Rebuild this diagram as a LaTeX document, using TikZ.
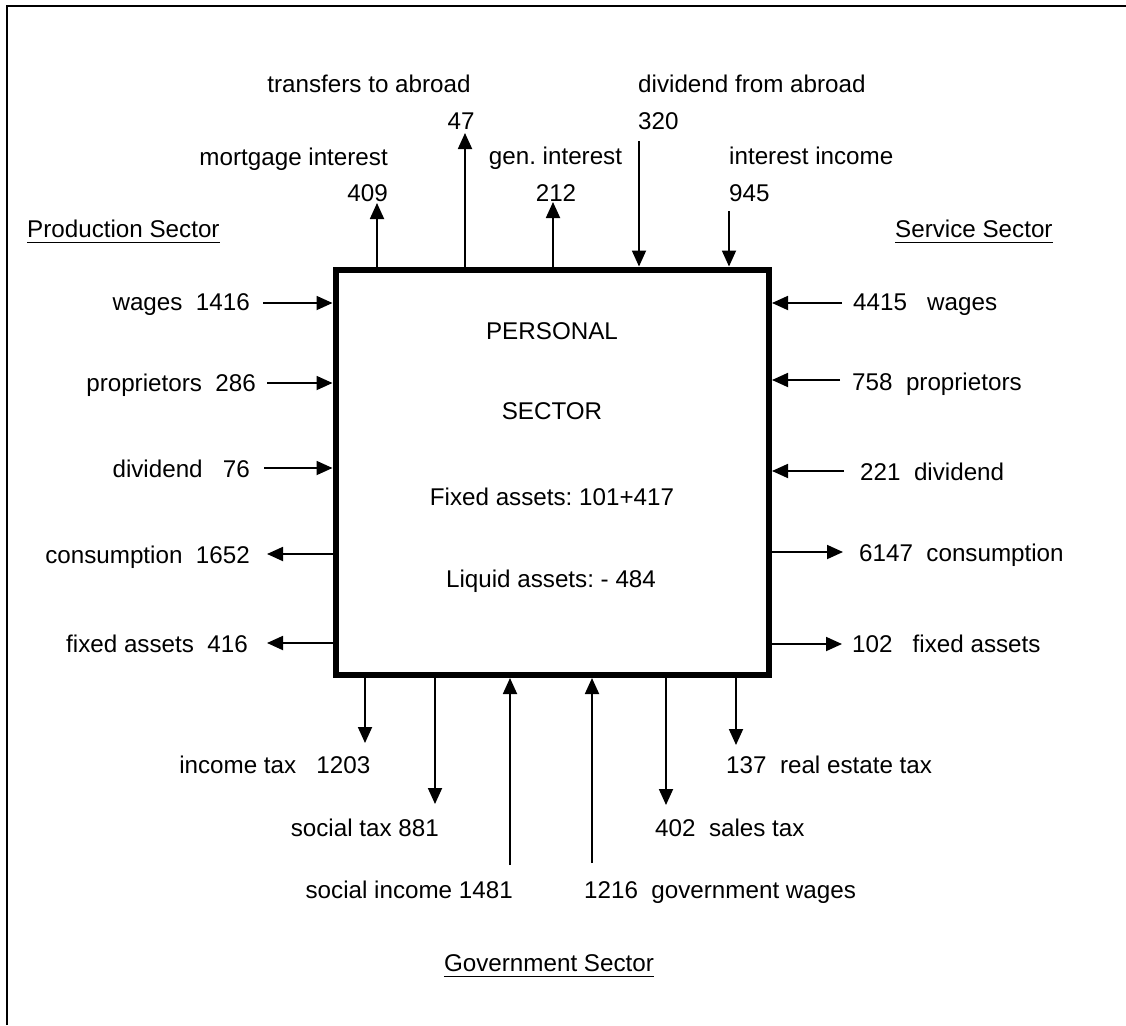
\documentclass[tikz,border=0pt]{standalone}
\usepackage{fontspec}
\setmainfont{Liberation Sans}
\usetikzlibrary{arrows.meta}
\frenchspacing
\begin{document}
\begin{tikzpicture}[x=1pt,y=-1pt,
  lbl/.style={inner sep=0pt, font=\fontsize{24.2}{29}\selectfont},
  flow/.style={line width=1.8pt, -{Triangle[length=16pt,width=14pt]}},
  uline/.style={line width=1.8pt}]
\useasboundingbox (0,0) rectangle (1126,1025);

% outer frame
\draw[line width=2pt] (7,1025) -- (7,6) -- (1126,6);

% personal sector box
\node[draw, line width=6pt, minimum width=433.5pt, minimum height=405.5pt, inner sep=0pt]
  (ps) at (552.25,472.25) {};
\node[lbl, anchor=base] (pa) at (552,339) {PERSONAL};
\node[lbl, anchor=base] (pb) at (552,419) {SECTOR};
\node[lbl, anchor=base] (pc) at (552,505) {Fixed assets: 101+417};
\node[lbl, anchor=base] (pd) at (551,587) {Liquid assets: - 484};

% sector headings
\node[lbl, anchor=base west] (prod) at (27,237) {Production Sector};
\draw[uline] ([yshift=-5.5pt]prod.base west) -- ([yshift=-5.5pt]prod.base east);
\node[lbl, anchor=base west] (serv) at (895,237) {Service Sector};
\draw[uline] ([yshift=-5.5pt]serv.base west) -- ([yshift=-5.5pt]serv.base east);
\node[lbl, anchor=base] (gov) at (549,971) {Government Sector};
\draw[uline] ([yshift=-5.5pt]gov.base west) -- ([yshift=-5.5pt]gov.base east);

% top labels
\node[lbl, anchor=base] (tta) at (369,92.5) {transfers to abroad};
\node[lbl, anchor=base] (v47) at (461,129) {47};
\node[lbl, anchor=base west] (dfa) at (638,92.5) {dividend from abroad};
\node[lbl, anchor=base west] (v320) at (638,129) {320};
\node[lbl, anchor=base east] (mi) at (388,165.5) {mortgage interest};
\node[lbl, anchor=base east] (v409) at (388,201.5) {409};
\node[lbl, anchor=base] (gi) at (555.5,164.5) {gen. interest};
\node[lbl, anchor=base] (v212) at (556,201.5) {212};
\node[lbl, anchor=base west] (ii) at (729,164.5) {interest income};
\node[lbl, anchor=base west] (v945) at (729,201.5) {945};

% top arrows
\coordinate (tmi) at (377,203);
\coordinate (tta2) at (465,133);
\coordinate (tgi) at (553,202);
\coordinate (tdf) at (639,141);
\coordinate (tii) at (729,211);
\draw[flow] (tmi |- ps.north) -- (tmi);
\draw[flow] (tta2 |- ps.north) -- (tta2);
\draw[flow] (tgi |- ps.north) -- (tgi);
\draw[flow] (tdf) -- (tdf |- ps.north);
\draw[flow] (tii) -- (tii |- ps.north);

% production sector (left)
\node[lbl, anchor=base east] (lw) at (250,310) {wages~~1416};
\node[lbl, anchor=base east] (lp) at (256,391.5) {proprietors~~286};
\node[lbl, anchor=base east] (ld) at (250,477) {dividend~~~76};
\node[lbl, anchor=base east] (lc) at (250,563.5) {consumption~~1652};
\node[lbl, anchor=base east] (lf) at (248,652) {fixed assets~~416};
\coordinate (alw) at (263,303);
\coordinate (alp) at (267,383);
\coordinate (ald) at (264,468);
\coordinate (alc) at (267,554);
\coordinate (alf) at (267,643);
\draw[flow] (alw) -- (alw -| ps.west);
\draw[flow] (alp) -- (alp -| ps.west);
\draw[flow] (ald) -- (ald -| ps.west);
\draw[flow] (alc -| ps.west) -- (alc);
\draw[flow] (alf -| ps.west) -- (alf);

% service sector (right)
\node[lbl, anchor=base west] (rw) at (853,310) {4415~~~wages};
\node[lbl, anchor=base west] (rp) at (852,390) {758~~proprietors};
\node[lbl, anchor=base west] (rd) at (860,480) {221~~dividend};
\node[lbl, anchor=base west] (rc) at (859,561) {6147~~consumption};
\node[lbl, anchor=base west] (rf) at (852,652.5) {102~~~fixed assets};
\coordinate (arw) at (842,303);
\coordinate (arp) at (840,380);
\coordinate (ard) at (844,471);
\coordinate (arc) at (843,552);
\coordinate (arf) at (842,644);
\draw[flow] (arw) -- (arw -| ps.east);
\draw[flow] (arp) -- (arp -| ps.east);
\draw[flow] (ard) -- (ard -| ps.east);
\draw[flow] (arc -| ps.east) -- (arc);
\draw[flow] (arf -| ps.east) -- (arf);

% government sector (bottom)
\node[lbl, anchor=base east] (bi) at (370.5,773) {income tax~~~1203};
\node[lbl, anchor=base east] (bs) at (439,836) {social tax 881};
\node[lbl, anchor=base east] (bo) at (513,898) {social income 1481};
\node[lbl, anchor=base west] (bg) at (584,898) {1216~~government wages};
\node[lbl, anchor=base west] (bt) at (655,836) {402~~sales tax};
\node[lbl, anchor=base west] (br) at (726,773) {137~~real estate tax};
\coordinate (abi) at (365,743);
\coordinate (abs) at (435,804);
\coordinate (abo) at (510,865);
\coordinate (abg) at (592,863);
\coordinate (abt) at (666,805);
\coordinate (abr) at (736,745);
\draw[flow] (abi |- ps.south) -- (abi);
\draw[flow] (abs |- ps.south) -- (abs);
\draw[flow] (abo) -- (abo |- ps.south);
\draw[flow] (abg) -- (abg |- ps.south);
\draw[flow] (abt |- ps.south) -- (abt);
\draw[flow] (abr |- ps.south) -- (abr);
\end{tikzpicture}
\end{document}
